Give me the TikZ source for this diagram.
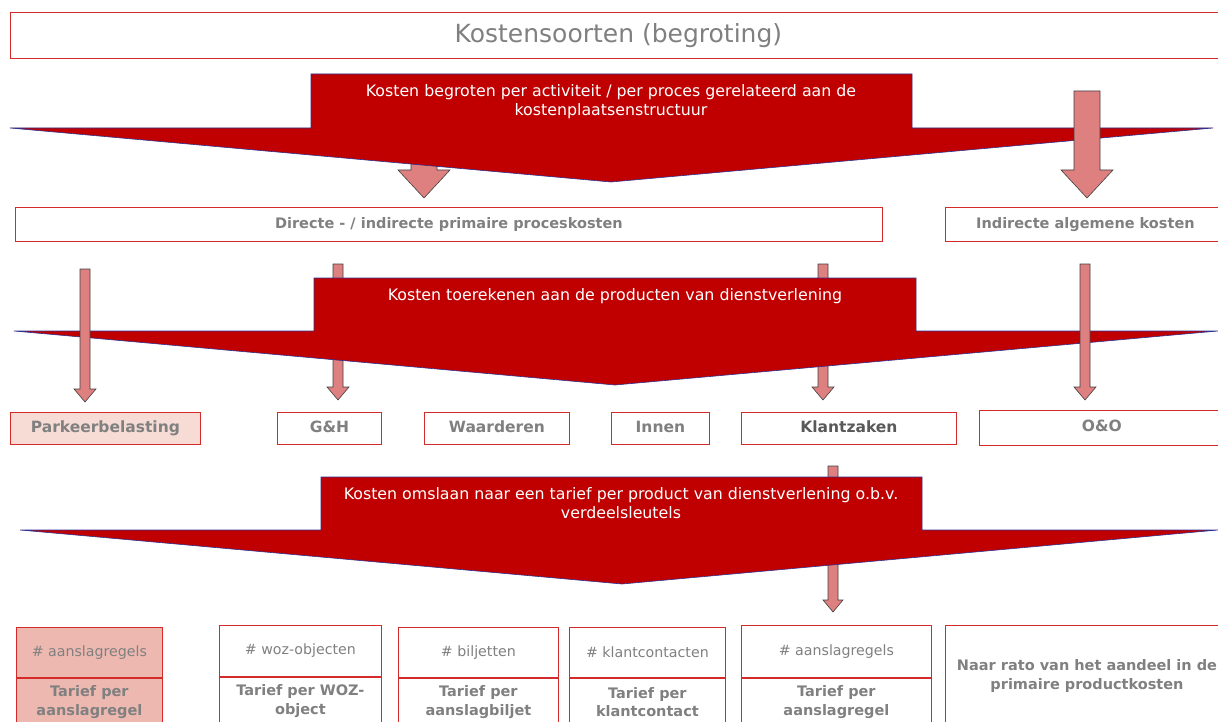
\documentclass[tikz,border=0pt]{standalone}
\usepackage{fontspec}
\setmainfont{DejaVu Sans}
\usetikzlibrary{positioning}

\definecolor{banierrood}{HTML}{C00000}
\definecolor{banierrand}{HTML}{2E3192}
\definecolor{vakrand}{HTML}{D42A2A}
\definecolor{tekstgrijs}{HTML}{808080}
\definecolor{pijlrood}{HTML}{DF8080}
\definecolor{pijlrand}{HTML}{404040}
\definecolor{parkroze}{HTML}{F7DCD6}
\definecolor{tariefroze}{HTML}{ECB8B0}

% block arrow: x, top, tip, half shaft, half head, head length
\newcommand{\blokpijl}[6]{%
  \draw[pijl] (#1-#4,#2) -- (#1+#4,#2) -- (#1+#4,#3-#6) -- (#1+#5,#3-#6)
    -- (#1,#3) -- (#1-#5,#3-#6) -- (#1-#4,#3-#6) -- cycle;}
% banner: rect left, rect right, top, shoulder, wing left, wing right, tip x, tip y
\newcommand{\banier}[8]{%
  \draw[banier] (#1,#3) -- (#2,#3) -- (#2,#4) -- (#6,#4) -- (#7,#8)
    -- (#5,#4) -- (#1,#4) -- cycle;}

\begin{document}
\begin{tikzpicture}[x=1pt,y=-1pt,
    vak/.style={draw=vakrand, line width=0.8pt, fill=white, inner sep=0pt,
      font=\fontsize{14.5}{18.5}\selectfont\bfseries, text=tekstgrijs, align=center},
    product/.style={vak, font=\fontsize{15.5}{18}\selectfont\bfseries, minimum height=32,
      text height=11pt, text depth=3pt, anchor=north west},
    teller/.style={vak, font=\fontsize{14.2}{17}\selectfont, anchor=north west},
    tarief/.style={vak, minimum height=48, anchor=north west},
    banier/.style={fill=banierrood, draw=banierrand, line width=0.6pt},
    bantekst/.style={text=white, font=\fontsize{15.8}{19}\selectfont, align=center},
    pijl/.style={fill=pijlrood, draw=pijlrand, line width=0.6pt}]
  \useasboundingbox (0,0) rectangle (1218,722);
  \clip (0,0) rectangle (1218,722);

  % Title
  \node[vak, font=\fontsize{25}{28}\selectfont, minimum width=1216, minimum height=46,
    anchor=north west] (titel) at (10,12) {Kostensoorten (begroting)};

  % Step 1: begroten
  \blokpijl{424}{150}{198}{13}{26}{28}
  \banier{311}{912}{74}{128}{10}{1213}{611}{182}
  \node[bantekst] (stap1) at (611,102) {Kosten begroten per activiteit / per proces gerelateerd aan de\\kostenplaatsenstructuur};
  \blokpijl{1087}{91}{198}{13}{26}{28}

  \node[vak, minimum width=867, minimum height=34, anchor=north west] (direct) at (15,207) {Directe - / indirecte primaire proceskosten};
  \node[vak, minimum width=280, minimum height=34, anchor=north west] (indirect) at (945,207) {Indirecte algemene kosten};

  % Step 2: toerekenen
  \blokpijl{338}{264}{400}{5}{11}{13}
  \blokpijl{823}{264}{400}{5}{11}{13}
  \banier{314}{916}{278}{331}{14}{1218}{615}{385}
  \node[bantekst] (stap2) at (615,296) {Kosten toerekenen aan de producten van dienstverlening};
  \blokpijl{85}{269}{402}{5}{11}{13}
  \blokpijl{1085}{264}{400}{5}{11}{13}

  % Products
  \node[product, fill=parkroze, minimum width=190] (park) at (10,412) {Parkeerbelasting};
  \node[product, minimum width=104] (gh) at (277,412) {G\&H};
  \node[product, minimum width=145] (waard) at (424,412) {Waarderen};
  \node[product, minimum width=98] (innen) at (611,412) {Innen};
  \node[product, text=black!65, minimum width=215] (klant) at (741,412) {Klantzaken};
  \node[product, minimum width=245, minimum height=35] (oo) at (979,410) {O\&O};

  % Step 3: omslaan
  \blokpijl{833}{466}{612}{5}{10}{12}
  \banier{321}{922}{477}{530}{20}{1218}{622}{584}
  \node[bantekst] (stap3) at (621,503) {Kosten omslaan naar een tarief per product van dienstverlening o.b.v.\\verdeelsleutels};

  % Tariffs
  \node[teller, fill=tariefroze, minimum width=146, minimum height=50] (t1) at (16,627) {\# aanslagregels};
  \node[tarief, fill=tariefroze, minimum width=146] (r1) at (t1.south west) {Tarief per\\aanslagregel};
  \node[teller, minimum width=162, minimum height=51] (t2) at (219,625) {\# woz-objecten};
  \node[tarief, minimum width=162] (r2) at (t2.south west) {Tarief per WOZ-\\object};
  \node[teller, minimum width=160, minimum height=50] (t3) at (398,627) {\# biljetten};
  \node[tarief, minimum width=160] (r3) at (t3.south west) {Tarief per\\aanslagbiljet};
  \node[teller, minimum width=156, minimum height=50] (t4) at (569,627) {\# klantcontacten};
  \node[tarief, minimum width=156] (r4) at (t4.south west) {Tarief per\\klantcontact};
  \node[teller, minimum width=190, minimum height=52] (t5) at (741,625) {\# aanslagregels};
  \node[tarief, minimum width=190] (r5) at (t5.south west) {Tarief per\\aanslagregel};
  \node[vak, minimum width=280, minimum height=110, anchor=north west] (t6) at (945,625) {};
  \node[vak, draw=none, fill=none] (t6tekst) at (1087,676) {Naar rato van het aandeel in de\\primaire productkosten};
\end{tikzpicture}
\end{document}
